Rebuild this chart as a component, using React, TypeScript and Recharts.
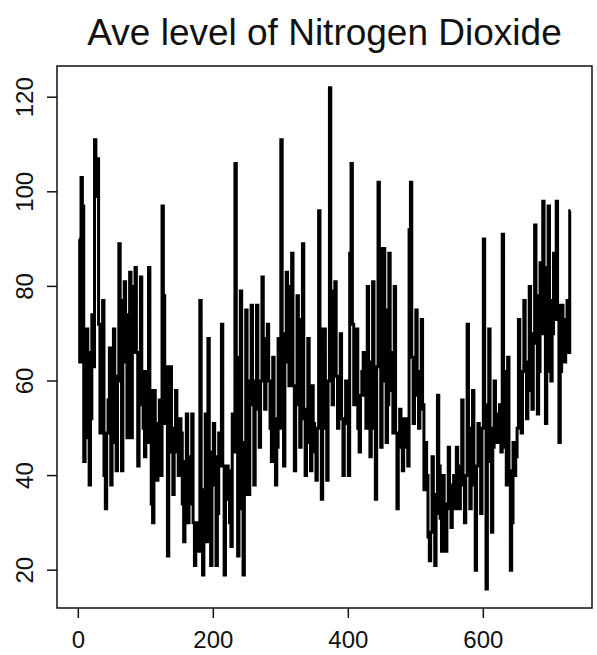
import React from "react";
import {
  LineChart,
  Line,
  XAxis,
  YAxis,
  ReferenceArea,
} from "recharts";

// daily averages, one reading every 2nd day
const no2Year1 = [
  90, 64, 103, 97, 43, 48, 71, 66, 38, 52, 74, 63, 111, 99, 107, 72, 49, 51, 77, 40,
  33, 49, 56, 67, 38, 60, 71, 47, 41, 61, 89, 60, 41, 77, 81, 64, 48, 74, 83, 48,
  66, 80, 84, 66, 42, 55, 82, 62, 50, 44, 62, 47, 84, 58, 34, 30, 58, 44, 39, 51,
  56, 40, 97, 78, 51, 63, 23, 56, 63, 45, 36, 50, 58, 45, 40, 52, 49, 34, 26, 43,
  53, 30, 34, 44, 53, 30, 21, 28, 30, 24, 77, 26, 19, 37, 53, 26, 69, 45, 21, 38,
  51, 44, 21, 32, 49, 42, 72, 42, 19, 35, 42, 41, 30, 25, 53, 45, 106, 65, 23, 33,
  79, 47, 19, 36, 75, 47, 36, 60, 76, 55, 38, 60, 76, 54, 46, 60, 82, 69, 54, 63,
  72, 60, 50, 43, 65, 52, 38, 46, 69, 50, 111, 70, 42, 67, 83, 64, 59, 80, 87, 59,
  41, 55, 78, 73, 46, 52, 89, 54, 40, 51, 69, 47, 41, 59, 51, 45, 39, 50, 96, 71,
  35, 51, 71, 50,
];

const no2Year2 = [
  39, 60, 122, 79, 55, 62, 81, 61, 50, 53, 70, 52, 40, 51, 60, 52, 40, 87, 106, 72,
  55, 58, 71, 50, 45, 57, 62, 66, 57, 50, 80, 64, 44, 63, 81, 50, 35, 63, 102, 88,
  46, 60, 88, 75, 47, 55, 87, 66, 58, 49, 80, 49, 33, 46, 54, 52, 41, 46, 52, 48,
  42, 92, 102, 65, 51, 57, 75, 62, 50, 54, 73, 55, 37, 47, 40, 27, 22, 28, 44, 36,
  21, 32, 57, 42, 31, 24, 40, 34, 24, 33, 46, 38, 29, 35, 40, 33, 46, 39, 33, 42,
  56, 38, 30, 40, 72, 50, 33, 46, 58, 38, 20, 42, 51, 45, 32, 50, 90, 55, 16, 43,
  71, 50, 28, 46, 60, 52, 47, 53, 55, 45, 91, 62, 46, 38, 65, 41, 20, 30, 47, 40,
  44, 50, 73, 55, 49, 62, 77, 64, 52, 58, 80, 70, 54, 68, 93, 78, 53, 62, 85, 70,
  98, 84, 51, 62, 97, 77, 60, 70, 87, 73, 98, 76, 47, 62, 76, 70, 64, 73, 77, 66,
  96,
];

const xTicks = [0, 200, 400, 600];
const yTicks = [20, 40, 60, 80, 100, 120];

const series = [...no2Year1, ...no2Year2].map((v, i) => ({
  day: 1 + i * 2,
  no2: v,
}));

const FONT = '"Liberation Sans", Arial, sans-serif';

const YTick = (props: any) => {
  const { y, payload } = props;
  return (
    <text
      x={33}
      y={y}
      transform={`rotate(-90, 33, ${y})`}
      textAnchor="middle"
      fontSize={24}
      fontFamily={FONT}
      fill="#111"
    >
      {payload.value}
    </text>
  );
};

const XTick = (props: any) => {
  const { x, payload } = props;
  return (
    <text x={x} y={648} textAnchor="middle" fontSize={24} fontFamily={FONT} fill="#111">
      {payload.value}
    </text>
  );
};

export default function App() {
  return (
    <div style={{ position: "absolute", left: 0, top: 0, width: 597, height: 655, background: "#fff" }}>
      <div
        style={{
          position: "absolute",
          left: 57,
          top: 14,
          width: 535,
          textAlign: "center",
          fontFamily: FONT,
          fontSize: 37,
          lineHeight: "37px",
          color: "#111",
          whiteSpace: "nowrap",
        }}
      >
        Ave level of Nitrogen Dioxide
      </div>
      <LineChart
        width={597}
        height={655}
        data={series}
        margin={{ top: 66, right: 5, bottom: 0, left: 0 }}
      >
        <XAxis
          dataKey="day"
          type="number"
          domain={[-31.6, 761]}
          ticks={xTicks}
          allowDataOverflow
          axisLine={false}
          tickLine={{ stroke: "#111", strokeWidth: 1.5 }}
          tickSize={10}
          tick={<XTick />}
          height={47}
        />
        <YAxis
          type="number"
          domain={[12, 126.6]}
          ticks={yTicks}
          allowDataOverflow
          axisLine={false}
          tickLine={{ stroke: "#111", strokeWidth: 1.5 }}
          tickSize={10}
          tick={<YTick />}
          width={57}
        />
        <ReferenceArea
          x1={-31.6}
          x2={761}
          y1={12}
          y2={126.6}
          fill="none"
          stroke="#111"
          strokeWidth={1.5}
          ifOverflow="visible"
        />
        <Line
          type="step"
          dataKey="no2"
          stroke="#000"
          strokeWidth={3}
          strokeLinejoin="miter"
          dot={false}
          isAnimationActive={false}
        />
      </LineChart>
    </div>
  );
}
